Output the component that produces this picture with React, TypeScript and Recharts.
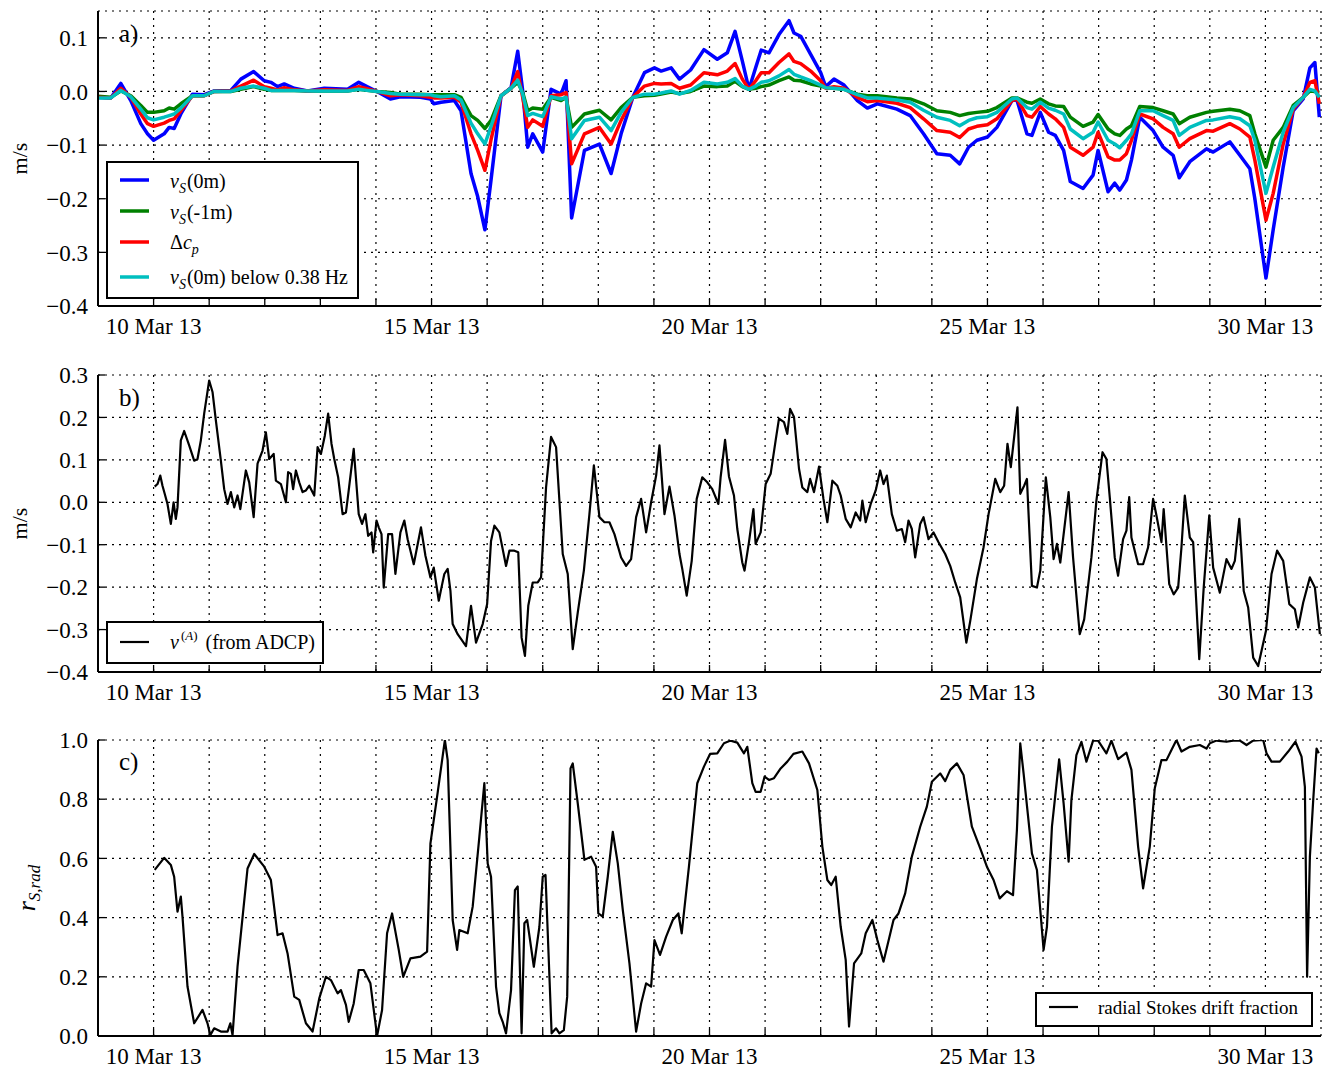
import React from 'react';
import { LineChart, Line, XAxis, YAxis, CartesianGrid } from 'recharts';

const FONT = '"Liberation Serif", "Times New Roman", serif';

// days of March 2013, shared by the four Stokes drift estimates
const aDays = [
  9.0, 9.23, 9.41, 9.59, 9.77, 9.89, 10.0, 10.19, 10.28, 10.37,
  10.49, 10.7, 10.91, 11.09, 11.39, 11.57, 11.8, 11.99, 12.11, 12.23,
  12.35, 12.53, 12.77, 13.07, 13.49, 13.69, 13.84, 14.02, 14.26, 14.44,
  14.8, 14.98, 15.04, 15.17, 15.41, 15.53, 15.71, 15.83, 15.96, 16.07,
  16.25, 16.43, 16.55, 16.64, 16.73, 16.82, 17.0, 17.15, 17.33, 17.42,
  17.52, 17.75, 18.02, 18.23, 18.41, 18.62, 18.83, 19.01, 19.13, 19.31,
  19.46, 19.66, 19.9, 20.14, 20.32, 20.46, 20.59, 20.71, 20.83, 20.93,
  21.07, 21.25, 21.43, 21.52, 21.64, 21.82, 22.0, 22.09, 22.24, 22.42,
  22.66, 22.84, 23.02, 23.37, 23.61, 23.85, 24.09, 24.33, 24.5, 24.66,
  24.81, 25.0, 25.17, 25.44, 25.53, 25.71, 25.8, 25.95, 26.1, 26.22,
  26.37, 26.49, 26.72, 26.9, 26.99, 27.17, 27.29, 27.38, 27.5, 27.59,
  27.74, 27.98, 28.16, 28.34, 28.45, 28.64, 28.94, 29.06, 29.36, 29.54,
  29.72, 29.81, 30.01, 30.14, 30.32, 30.5, 30.68, 30.8, 30.89, 30.97,
];

// v_S(0m)
const vsSurface = [
  -0.011, -0.012, 0.015, -0.017, -0.06, -0.079, -0.091, -0.079, -0.067, -0.069,
  -0.042, -0.005, -0.006, 0.001, 0.002, 0.023, 0.037, 0.02, 0.017, 0.009,
  0.014, 0.006, 0.001, 0.006, 0.004, 0.017, 0.009, 0.0, -0.014, -0.01,
  -0.011, -0.014, -0.023, -0.02, -0.017, -0.036, -0.153, -0.196, -0.258, -0.165,
  -0.008, 0.007, 0.075, 0.001, -0.104, -0.079, -0.113, 0.004, -0.005, 0.02,
  -0.236, -0.11, -0.098, -0.153, -0.079, -0.011, 0.035, 0.044, 0.038, 0.044,
  0.023, 0.04, 0.078, 0.06, 0.072, 0.112, 0.057, 0.004, 0.044, 0.077,
  0.072, 0.106, 0.132, 0.109, 0.103, 0.069, 0.035, 0.009, 0.023, 0.012,
  -0.017, -0.031, -0.023, -0.033, -0.045, -0.079, -0.116, -0.119, -0.135, -0.104,
  -0.091, -0.085, -0.067, -0.017, -0.016, -0.079, -0.082, -0.039, -0.076, -0.082,
  -0.11, -0.168, -0.181, -0.156, -0.11, -0.187, -0.171, -0.184, -0.165, -0.128,
  -0.048, -0.073, -0.104, -0.119, -0.161, -0.131, -0.107, -0.113, -0.094, -0.119,
  -0.144, -0.2, -0.348, -0.258, -0.141, -0.036, -0.014, 0.044, 0.054, -0.048,
];

// v_S(-1m)
const vsMinus1m = [
  -0.009, -0.011, 0.001, -0.008, -0.026, -0.039, -0.039, -0.036, -0.031, -0.033,
  -0.023, -0.008, -0.008, 0.0, 0.0, 0.004, 0.009, 0.004, 0.002, 0.002,
  0.002, 0.002, 0.001, 0.001, 0.001, 0.004, 0.002, 0.0, -0.002, -0.005,
  -0.005, -0.006, -0.006, -0.006, -0.006, -0.011, -0.045, -0.054, -0.069, -0.054,
  -0.008, 0.006, 0.017, -0.002, -0.036, -0.031, -0.033, -0.011, -0.017, -0.011,
  -0.067, -0.042, -0.035, -0.053, -0.03, -0.011, -0.008, -0.007, -0.005, -0.001,
  -0.004, 0.0, 0.01, 0.009, 0.01, 0.019, 0.009, 0.004, 0.006, 0.009,
  0.012, 0.02, 0.027, 0.021, 0.02, 0.014, 0.01, 0.007, 0.006, 0.004,
  -0.005, -0.008, -0.008, -0.012, -0.014, -0.023, -0.036, -0.039, -0.045, -0.041,
  -0.039, -0.037, -0.03, -0.012, -0.012, -0.02, -0.022, -0.014, -0.023, -0.027,
  -0.028, -0.048, -0.065, -0.057, -0.043, -0.07, -0.079, -0.082, -0.07, -0.064,
  -0.028, -0.03, -0.036, -0.042, -0.06, -0.048, -0.039, -0.037, -0.033, -0.036,
  -0.045, -0.079, -0.141, -0.091, -0.067, -0.026, -0.011, 0.001, 0.0, -0.002,
];

// Δc_p
const deltaCp = [
  -0.011, -0.012, 0.006, -0.011, -0.042, -0.06, -0.065, -0.059, -0.054, -0.051,
  -0.036, -0.008, -0.008, 0.0, 0.001, 0.01, 0.021, 0.009, 0.006, 0.003,
  0.007, 0.003, 0.001, 0.003, 0.002, 0.009, 0.005, 0.0, -0.008, -0.006,
  -0.008, -0.011, -0.012, -0.012, -0.011, -0.02, -0.079, -0.11, -0.147, -0.09,
  -0.008, 0.006, 0.037, -0.011, -0.067, -0.053, -0.065, -0.008, -0.006, -0.002,
  -0.135, -0.079, -0.067, -0.098, -0.054, -0.011, 0.01, 0.015, 0.014, 0.015,
  0.006, 0.012, 0.035, 0.031, 0.038, 0.052, 0.023, 0.004, 0.02, 0.035,
  0.035, 0.054, 0.07, 0.056, 0.052, 0.038, 0.02, 0.006, 0.009, 0.006,
  -0.011, -0.019, -0.017, -0.022, -0.03, -0.051, -0.073, -0.076, -0.086, -0.07,
  -0.065, -0.062, -0.051, -0.017, -0.014, -0.045, -0.048, -0.028, -0.042, -0.051,
  -0.067, -0.104, -0.119, -0.104, -0.076, -0.122, -0.128, -0.128, -0.116, -0.091,
  -0.042, -0.051, -0.067, -0.079, -0.104, -0.088, -0.073, -0.074, -0.06, -0.07,
  -0.085, -0.128, -0.24, -0.19, -0.098, -0.033, -0.011, 0.017, 0.02, -0.023,
];

// v_S(0m) below 0.38 Hz
const vsLowFreq = [
  -0.012, -0.012, 0.002, -0.01, -0.033, -0.049, -0.053, -0.048, -0.045, -0.042,
  -0.031, -0.008, -0.008, 0.0, 0.0, 0.006, 0.01, 0.006, 0.002, 0.002,
  0.002, 0.002, 0.001, 0.001, 0.001, 0.004, 0.002, 0.0, -0.004, -0.005,
  -0.006, -0.006, -0.008, -0.01, -0.008, -0.016, -0.059, -0.079, -0.098, -0.065,
  -0.008, 0.006, 0.021, -0.005, -0.045, -0.041, -0.047, -0.01, -0.014, -0.011,
  -0.088, -0.054, -0.048, -0.073, -0.039, -0.011, -0.005, -0.005, -0.003, 0.001,
  -0.005, 0.002, 0.017, 0.014, 0.017, 0.024, 0.01, 0.004, 0.01, 0.017,
  0.02, 0.029, 0.041, 0.032, 0.027, 0.02, 0.012, 0.007, 0.006, 0.004,
  -0.006, -0.012, -0.012, -0.016, -0.02, -0.035, -0.048, -0.054, -0.064, -0.054,
  -0.049, -0.047, -0.039, -0.014, -0.012, -0.03, -0.033, -0.02, -0.031, -0.035,
  -0.042, -0.07, -0.088, -0.076, -0.057, -0.091, -0.098, -0.105, -0.091, -0.079,
  -0.036, -0.036, -0.045, -0.054, -0.082, -0.067, -0.054, -0.053, -0.047, -0.051,
  -0.064, -0.091, -0.19, -0.141, -0.076, -0.03, -0.011, 0.004, 0.001, -0.011,
];

// ADCP current record
const bDays = [
  10.02, 10.07, 10.12, 10.16, 10.2, 10.25, 10.31, 10.36, 10.4, 10.43,
  10.49, 10.55, 10.64, 10.73, 10.79, 10.85, 10.91, 11.0, 11.06, 11.12,
  11.21, 11.27, 11.33, 11.39, 11.45, 11.51, 11.56, 11.66, 11.72, 11.8,
  11.87, 11.96, 12.02, 12.08, 12.16, 12.2, 12.29, 12.38, 12.42, 12.47,
  12.51, 12.56, 12.62, 12.68, 12.74, 12.8, 12.89, 12.95, 13.01, 13.08,
  13.14, 13.2, 13.25, 13.32, 13.4, 13.46, 13.51, 13.6, 13.69, 13.75,
  13.81, 13.86, 13.92, 13.95, 14.01, 14.05, 14.1, 14.14, 14.22, 14.29,
  14.35, 14.44, 14.51, 14.57, 14.68, 14.81, 14.89, 14.98, 15.04, 15.13,
  15.18, 15.23, 15.29, 15.34, 15.38, 15.47, 15.62, 15.71, 15.8, 15.92,
  16.0, 16.07, 16.13, 16.22, 16.34, 16.4, 16.49, 16.56, 16.62, 16.68,
  16.74, 16.82, 16.91, 16.97, 17.06, 17.15, 17.24, 17.36, 17.45, 17.54,
  17.63, 17.74, 17.84, 17.92, 18.02, 18.11, 18.2, 18.29, 18.41, 18.5,
  18.59, 18.68, 18.77, 18.86, 18.95, 19.04, 19.1, 19.19, 19.28, 19.37,
  19.46, 19.51, 19.59, 19.68, 19.77, 19.87, 19.96, 20.05, 20.16, 20.2,
  20.28, 20.35, 20.44, 20.5, 20.59, 20.63, 20.71, 20.79, 20.83, 20.92,
  21.01, 21.1, 21.19, 21.25, 21.34, 21.4, 21.45, 21.52, 21.61, 21.67,
  21.76, 21.81, 21.88, 21.97, 22.05, 22.12, 22.21, 22.3, 22.36, 22.45,
  22.54, 22.63, 22.71, 22.75, 22.81, 22.9, 22.99, 23.07, 23.13, 23.19,
  23.28, 23.37, 23.46, 23.52, 23.58, 23.64, 23.7, 23.79, 23.85, 23.94,
  24.03, 24.12, 24.24, 24.33, 24.42, 24.51, 24.62, 24.69, 24.81, 24.93,
  25.02, 25.14, 25.23, 25.3, 25.36, 25.42, 25.54, 25.59, 25.66, 25.71,
  25.8, 25.89, 25.95, 26.05, 26.13, 26.19, 26.25, 26.31, 26.46, 26.54,
  26.66, 26.74, 26.87, 26.96, 27.07, 27.14, 27.2, 27.29, 27.35, 27.44,
  27.5, 27.55, 27.59, 27.71, 27.8, 27.89, 27.98, 28.04, 28.13, 28.17,
  28.27, 28.35, 28.43, 28.49, 28.55, 28.64, 28.7, 28.81, 28.89, 28.99,
  29.06, 29.18, 29.3, 29.39, 29.45, 29.53, 29.61, 29.69, 29.78, 29.87,
  30.01, 30.11, 30.21, 30.32, 30.43, 30.53, 30.59, 30.68, 30.8, 30.89,
  30.98,
];

const vAdcp = [
  0.037, 0.043, 0.063, 0.039, 0.02, -0.004, -0.051, 0.0, -0.039, -0.012,
  0.146, 0.168, 0.134, 0.098, 0.102, 0.146, 0.209, 0.287, 0.26, 0.193,
  0.098, 0.031, -0.004, 0.024, -0.012, 0.016, -0.016, 0.075, 0.047, -0.035,
  0.091, 0.122, 0.165, 0.102, 0.114, 0.051, 0.043, 0.0, 0.071, 0.067,
  0.031, 0.075, 0.047, 0.024, 0.028, 0.039, 0.016, 0.13, 0.114, 0.157,
  0.209, 0.138, 0.102, 0.059, -0.028, -0.024, 0.028, 0.126, -0.028, -0.051,
  -0.028, -0.079, -0.071, -0.118, -0.043, -0.059, -0.075, -0.201, -0.075, -0.075,
  -0.169, -0.071, -0.043, -0.087, -0.146, -0.059, -0.126, -0.177, -0.154, -0.232,
  -0.2, -0.169, -0.157, -0.209, -0.287, -0.311, -0.339, -0.244, -0.331, -0.287,
  -0.24, -0.091, -0.055, -0.071, -0.15, -0.114, -0.114, -0.118, -0.319, -0.362,
  -0.244, -0.189, -0.189, -0.177, 0.035, 0.154, 0.13, -0.122, -0.169, -0.346,
  -0.26, -0.161, -0.028, 0.087, -0.035, -0.047, -0.047, -0.075, -0.13, -0.15,
  -0.134, -0.035, 0.008, -0.071, 0.0, 0.063, 0.134, -0.028, 0.037, -0.031,
  -0.122, -0.157, -0.22, -0.138, 0.008, 0.059, 0.047, 0.031, -0.004, 0.059,
  0.147, 0.061, 0.016, -0.063, -0.142, -0.161, -0.094, -0.016, -0.098, -0.071,
  0.043, 0.067, 0.146, 0.197, 0.189, 0.161, 0.22, 0.201, 0.079, 0.035,
  0.024, 0.055, 0.024, 0.084, 0.008, -0.047, 0.051, 0.039, 0.016, -0.039,
  -0.059, -0.024, -0.043, 0.004, -0.047, -0.004, 0.028, 0.075, 0.043, 0.063,
  -0.028, -0.067, -0.063, -0.094, -0.043, -0.063, -0.13, -0.051, -0.035, -0.087,
  -0.071, -0.094, -0.122, -0.15, -0.189, -0.224, -0.331, -0.28, -0.181, -0.106,
  -0.028, 0.055, 0.024, 0.039, 0.138, 0.083, 0.224, 0.02, 0.039, 0.055,
  -0.197, -0.201, -0.161, 0.059, -0.035, -0.134, -0.098, -0.142, 0.024, -0.13,
  -0.311, -0.276, -0.13, 0.004, 0.118, 0.102, 0.012, -0.13, -0.173, -0.087,
  -0.067, 0.012, -0.083, -0.146, -0.146, -0.106, 0.008, -0.031, -0.094, -0.016,
  -0.193, -0.217, -0.201, -0.106, 0.016, -0.083, -0.094, -0.37, -0.201, -0.031,
  -0.154, -0.213, -0.134, -0.157, -0.138, -0.039, -0.209, -0.248, -0.366, -0.386,
  -0.303, -0.169, -0.114, -0.138, -0.24, -0.252, -0.295, -0.236, -0.177, -0.201,
  -0.311,
];

// radial Stokes drift fraction
const cDays = [
  10.02, 10.19, 10.31, 10.37, 10.43, 10.49, 10.52, 10.61, 10.73, 10.88,
  10.97, 11.02, 11.09, 11.21, 11.33, 11.38, 11.42, 11.51, 11.69, 11.81,
  11.99, 12.11, 12.23, 12.32, 12.41, 12.53, 12.62, 12.74, 12.86, 12.98,
  13.1, 13.19, 13.31, 13.37, 13.46, 13.51, 13.6, 13.69, 13.78, 13.9,
  14.02, 14.11, 14.2, 14.29, 14.41, 14.49, 14.62, 14.8, 14.92, 14.98,
  15.1, 15.24, 15.29, 15.38, 15.46, 15.5, 15.65, 15.74, 15.86, 15.95,
  16.01, 16.07, 16.16, 16.22, 16.28, 16.34, 16.43, 16.5, 16.55, 16.62,
  16.67, 16.72, 16.84, 16.94, 17.0, 17.05, 17.16, 17.24, 17.3, 17.38,
  17.44, 17.5, 17.54, 17.63, 17.75, 17.87, 17.96, 18.0, 18.08, 18.17,
  18.26, 18.35, 18.44, 18.56, 18.68, 18.77, 18.86, 18.95, 19.01, 19.11,
  19.22, 19.34, 19.44, 19.5, 19.63, 19.78, 19.9, 20.01, 20.14, 20.26,
  20.38, 20.5, 20.62, 20.68, 20.77, 20.83, 20.92, 20.99, 21.07, 21.16,
  21.28, 21.4, 21.51, 21.67, 21.79, 21.94, 22.03, 22.12, 22.19, 22.27,
  22.36, 22.45, 22.51, 22.6, 22.73, 22.81, 22.93, 23.02, 23.13, 23.31,
  23.4, 23.52, 23.64, 23.79, 23.91, 24.0, 24.15, 24.24, 24.33, 24.45,
  24.57, 24.72, 24.87, 24.99, 25.11, 25.22, 25.35, 25.46, 25.53, 25.59,
  25.65, 25.8, 25.89, 26.01, 26.07, 26.16, 26.29, 26.37, 26.46, 26.51,
  26.6, 26.69, 26.78, 26.9, 26.99, 27.14, 27.23, 27.35, 27.5, 27.59,
  27.71, 27.8, 27.92, 28.01, 28.13, 28.22, 28.31, 28.4, 28.49, 28.64,
  28.82, 28.94, 29.0, 29.12, 29.3, 29.42, 29.54, 29.66, 29.78, 29.96,
  30.02, 30.11, 30.26, 30.41, 30.54, 30.65, 30.71, 30.75, 30.8, 30.86,
  30.92, 30.96,
];

const rStokesRad = [
  0.561, 0.602, 0.578, 0.538, 0.42, 0.471, 0.403, 0.167, 0.043, 0.088,
  0.043, 0.003, 0.026, 0.015, 0.015, 0.043, 0.003, 0.234, 0.566, 0.615,
  0.572, 0.527, 0.341, 0.347, 0.279, 0.133, 0.122, 0.043, 0.015, 0.127,
  0.2, 0.189, 0.144, 0.155, 0.105, 0.048, 0.11, 0.223, 0.223, 0.178,
  0.0, 0.088, 0.347, 0.414, 0.291, 0.2, 0.262, 0.268, 0.285, 0.651,
  0.809, 1.0, 0.932, 0.392, 0.291, 0.358, 0.347, 0.437, 0.673, 0.854,
  0.583, 0.538, 0.167, 0.077, 0.048, 0.009, 0.155, 0.493, 0.505, 0.009,
  0.381, 0.392, 0.234, 0.369, 0.538, 0.544, 0.009, 0.026, 0.009, 0.02,
  0.133, 0.904, 0.921, 0.786, 0.595, 0.606, 0.572, 0.414, 0.403, 0.538,
  0.69, 0.583, 0.426, 0.245, 0.015, 0.11, 0.178, 0.167, 0.324, 0.274,
  0.336, 0.392, 0.414, 0.347, 0.572, 0.854, 0.91, 0.953, 0.955, 0.989,
  0.998, 0.991, 0.955, 0.977, 0.854, 0.825, 0.825, 0.876, 0.865, 0.871,
  0.904, 0.927, 0.953, 0.961, 0.921, 0.831, 0.64, 0.527, 0.51, 0.538,
  0.369, 0.257, 0.032, 0.245, 0.279, 0.347, 0.392, 0.324, 0.251, 0.392,
  0.414, 0.482, 0.606, 0.707, 0.775, 0.859, 0.887, 0.861, 0.899, 0.921,
  0.882, 0.707, 0.634, 0.572, 0.527, 0.465, 0.489, 0.476, 0.696, 0.989,
  0.887, 0.617, 0.561, 0.291, 0.369, 0.707, 0.935, 0.786, 0.589, 0.797,
  0.949, 0.994, 0.927, 0.998, 0.998, 0.955, 0.998, 0.935, 0.957, 0.899,
  0.64, 0.499, 0.64, 0.837, 0.932, 0.932, 0.966, 1.0, 0.961, 0.977,
  0.983, 0.971, 0.989, 0.998, 0.994, 0.998, 0.998, 0.983, 0.998, 1.0,
  0.955, 0.927, 0.927, 0.961, 0.994, 0.944, 0.842, 0.2, 0.606, 0.797,
  0.971, 0.955,
];

const dayTicks = [10, 11, 12, 13, 14, 15, 16, 17, 18, 19, 20, 21, 22, 23, 24, 25, 26, 27, 28, 29, 30];
const labelledDays = [10, 15, 20, 25, 30];
const aYTicks = [-0.4, -0.3, -0.2, -0.1, 0, 0.1];
const bYTicks = [-0.4, -0.3, -0.2, -0.1, 0, 0.1, 0.2, 0.3];
const cYTicks = [0, 0.2, 0.4, 0.6, 0.8, 1.0];

const stokesData = aDays.map((t, i) => ({
  t,
  vs0: vsSurface[i],
  vs1: vsMinus1m[i],
  dcp: deltaCp[i],
  vsLow: vsLowFreq[i],
}));
const adcpData = bDays.map((t, i) => ({ t, v: vAdcp[i] }));
const fractionData = cDays.map((t, i) => ({ t, r: rStokesRad[i] }));

const W = 1326;
const X_GAP = 12;
const Y_GAP = 10;
const TICK_LEN = 7;
const frame = { stroke: '#000', strokeWidth: 2 };

const fmtVal = (v: number) => (Math.abs(v) < 1e-9 ? '0.0' : v.toFixed(1).replace('-', '\u2212'));

// inward ticks, labels only on every fifth day
const BottomTick = ({ x, y, payload }: any) => {
  const axisY = y - X_GAP;
  return (
    <g>
      <line x1={x} x2={x} y1={axisY} y2={axisY - TICK_LEN} stroke="#000" strokeWidth={1.3} />
      {labelledDays.includes(payload.value) && (
        <text x={x} y={y} dy="0.71em" textAnchor="middle" fontFamily={FONT} fontSize={23} fill="#000">
          {`${payload.value} Mar 13`}
        </text>
      )}
    </g>
  );
};

const TopTick = ({ x, y }: any) => (
  <line x1={x} x2={x} y1={y} y2={y + TICK_LEN} stroke="#000" strokeWidth={1.3} />
);

const LeftTick = ({ x, y, payload }: any) => {
  const axisX = x + Y_GAP;
  return (
    <g>
      <line x1={axisX} x2={axisX + TICK_LEN} y1={y} y2={y} stroke="#000" strokeWidth={1.3} />
      <text x={x} y={y} dy="0.355em" textAnchor="end" fontFamily={FONT} fontSize={23} fill="#000">
        {fmtVal(payload.value)}
      </text>
    </g>
  );
};

const RightTick = ({ x, y }: any) => (
  <line x1={x} x2={x - TICK_LEN} y1={y} y2={y} stroke="#000" strokeWidth={1.3} />
);

type PanelProps = {
  data: any[];
  height: number;
  marginTop: number;
  marginBottom: number;
  xAxisHeight: number;
  yDomain: [number, number];
  yTicks: number[];
  children: React.ReactNode;
};

function Panel({ data, height, marginTop, marginBottom, xAxisHeight, yDomain, yTicks, children }: PanelProps) {
  return (
    <LineChart
      width={W}
      height={height}
      data={data}
      margin={{ top: marginTop, right: 5, bottom: marginBottom, left: 38 }}
    >
      <CartesianGrid stroke="#000" strokeWidth={1.2} strokeDasharray="2 5" />
      <XAxis
        dataKey="t"
        type="number"
        domain={[9, 31]}
        ticks={dayTicks}
        interval={0}
        allowDataOverflow
        height={xAxisHeight}
        tickSize={0}
        tickMargin={X_GAP}
        tickLine={false}
        axisLine={frame}
        tick={(p: any) => <BottomTick {...p} />}
      />
      <XAxis
        xAxisId="top"
        orientation="top"
        dataKey="t"
        type="number"
        domain={[9, 31]}
        ticks={dayTicks}
        interval={0}
        allowDataOverflow
        height={0}
        tickSize={0}
        tickMargin={0}
        tickLine={false}
        axisLine={frame}
        tick={(p: any) => <TopTick {...p} />}
      />
      <YAxis
        type="number"
        domain={yDomain}
        ticks={yTicks}
        interval={0}
        allowDataOverflow
        width={60}
        tickSize={0}
        tickMargin={Y_GAP}
        tickLine={false}
        axisLine={frame}
        tick={(p: any) => <LeftTick {...p} />}
      />
      <YAxis
        yAxisId="right"
        orientation="right"
        type="number"
        domain={yDomain}
        ticks={yTicks}
        interval={0}
        allowDataOverflow
        width={0}
        tickSize={0}
        tickMargin={0}
        tickLine={false}
        axisLine={frame}
        tick={(p: any) => <RightTick {...p} />}
      />
      {children}
    </LineChart>
  );
}

const lineProps = { type: 'linear' as const, dot: false, activeDot: false, isAnimationActive: false, strokeLinejoin: 'round' as const };

// italic v with an upright-suffix, subscript S
const VsLabel = ({ x, y, suffix }: { x: number; y: number; suffix: string }) => (
  <text x={x} y={y} fontFamily={FONT} fontSize={20} fill="#000">
    <tspan fontStyle="italic">v</tspan>
    <tspan fontStyle="italic" fontSize={14} dy={5}>S</tspan>
    <tspan dy={-5} dx={1}>{suffix}</tspan>
  </text>
);

export default function App() {
  return (
    <div style={{ position: 'absolute', top: 0, left: 0, width: W, height: 1068, background: '#fff', fontFamily: FONT }}>
      <div style={{ position: 'absolute', top: 0, left: 0 }}>
        <Panel data={stokesData} height={350} marginTop={11} marginBottom={4} xAxisHeight={40} yDomain={[-0.4, 0.15]} yTicks={aYTicks}>
          <Line {...lineProps} dataKey="vs0" stroke="#0000ff" strokeWidth={3.5} />
          <Line {...lineProps} dataKey="vs1" stroke="#008000" strokeWidth={3.5} />
          <Line {...lineProps} dataKey="dcp" stroke="#ff0000" strokeWidth={3.5} />
          <Line {...lineProps} dataKey="vsLow" stroke="#00bfbf" strokeWidth={3.5} />
        </Panel>
      </div>
      <div style={{ position: 'absolute', top: 360, left: 0 }}>
        <Panel data={adcpData} height={355} marginTop={15} marginBottom={3} xAxisHeight={40} yDomain={[-0.4, 0.3]} yTicks={bYTicks}>
          <Line {...lineProps} dataKey="v" stroke="#000" strokeWidth={2.2} />
        </Panel>
      </div>
      <div style={{ position: 'absolute', top: 725, left: 0 }}>
        <Panel data={fractionData} height={343} marginTop={15} marginBottom={2} xAxisHeight={30} yDomain={[0, 1]} yTicks={cYTicks}>
          <Line {...lineProps} dataKey="r" stroke="#000" strokeWidth={2.2} />
        </Panel>
      </div>

      <svg width={W} height={1068} style={{ position: 'absolute', top: 0, left: 0, pointerEvents: 'none' }}>
        {/* panel letters */}
        <text x={119} y={42} fontFamily={FONT} fontSize={25}>a)</text>
        <text x={119} y={406} fontFamily={FONT} fontSize={25}>b)</text>
        <text x={119} y={770} fontFamily={FONT} fontSize={25}>c)</text>

        {/* axis titles */}
        <text transform="translate(27,158.5) rotate(-90)" textAnchor="middle" fontFamily={FONT} fontSize={22}>m/s</text>
        <text transform="translate(27,523.5) rotate(-90)" textAnchor="middle" fontFamily={FONT} fontSize={22}>m/s</text>
        <text transform="translate(35,888) rotate(-90)" textAnchor="middle" fontFamily={FONT}>
          <tspan fontStyle="italic" fontSize={26}>r</tspan>
          <tspan fontStyle="italic" fontSize={17} dy={5}>S,rad</tspan>
        </text>

        {/* legend a */}
        <rect x={107} y={162} width={251} height={136} fill="#fff" stroke="#000" strokeWidth={2} />
        <line x1={120} x2={149} y1={180} y2={180} stroke="#0000ff" strokeWidth={3.5} />
        <VsLabel x={170} y={188} suffix="(0m)" />
        <line x1={120} x2={149} y1={211} y2={211} stroke="#008000" strokeWidth={3.5} />
        <VsLabel x={170} y={219} suffix="(-1m)" />
        <line x1={120} x2={149} y1={242} y2={242} stroke="#ff0000" strokeWidth={3.5} />
        <text x={170} y={249} fontFamily={FONT} fontSize={20}>
          <tspan>Δ</tspan>
          <tspan fontStyle="italic">c</tspan>
          <tspan fontStyle="italic" fontSize={14} dy={5}>p</tspan>
        </text>
        <line x1={120} x2={149} y1={277} y2={277} stroke="#00bfbf" strokeWidth={3.5} />
        <VsLabel x={170} y={284} suffix="(0m) below 0.38 Hz" />

        {/* legend b */}
        <rect x={107} y={622} width={216} height={41} fill="#fff" stroke="#000" strokeWidth={2} />
        <line x1={120} x2={149} y1={642} y2={642} stroke="#000" strokeWidth={2.2} />
        <text x={170} y={649} fontFamily={FONT} fontSize={20}>
          <tspan fontStyle="italic">v</tspan>
          <tspan fontSize={13} dy={-9} dx={2}>(</tspan>
          <tspan fontSize={13} fontStyle="italic">A</tspan>
          <tspan fontSize={13}>)</tspan>
          <tspan dy={9} dx={8}>(from ADCP)</tspan>
        </text>

        {/* legend c */}
        <rect x={1036} y={993} width={276} height={33} fill="#fff" stroke="#000" strokeWidth={2} />
        <line x1={1049} x2={1078} y1={1007} y2={1007} stroke="#000" strokeWidth={2.2} />
        <text x={1098} y={1014} fontFamily={FONT} fontSize={19}>radial Stokes drift fraction</text>
      </svg>
    </div>
  );
}
